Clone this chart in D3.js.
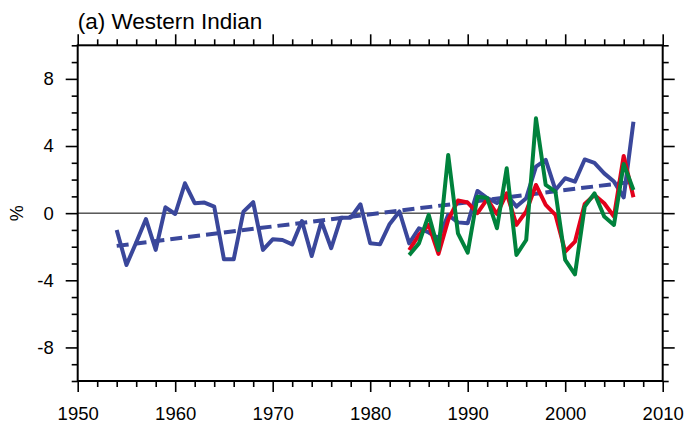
<!DOCTYPE html>
<html>
<head>
<meta charset="utf-8">
<script src="https://cdn.jsdelivr.net/npm/d3@7"></script>
<style>
  html, body { margin: 0; padding: 0; background: #fff; }
  svg { display: block; font-family: "Liberation Sans", Arial, Helvetica, sans-serif; }
</style>
</head>
<body>
<svg id="chart" width="687" height="423"></svg>
<script>
// ---- data ----
const blueYears = d3.range(1954, 2008);
const blueValues = [
  -1.0, -3.09, -1.75, -0.35, -2.19, 0.35, -0.05, 1.78, 0.59, 0.63,
  0.39, -2.75, -2.75, 0.09, 0.65, -2.19, -1.56, -1.6, -1.86, -0.47,
  -2.55, -0.5, -2.09, -0.27, -0.27, 0.53, -1.8, -1.86, -0.64, 0.1,
  -1.8, -0.9, -1.15, -1.5, -0.1, -0.55, -0.6, 1.32, 0.9, 0.6,
  1.1, 0.39, 0.89, 2.77, 3.17, 1.38, 2.08, 1.88, 3.2, 3.0,
  2.37, 1.88, 0.94, 5.45
];
const modelYears = d3.range(1984, 2008);
const redValues = [
  -2.2, -1.3, -0.7, -2.43, -0.4, 0.75, 0.63, 0.0, 0.83, -0.05,
  1.18, -0.7, 0.1, 1.68, 0.49, -0.1, -2.29, -1.7, 0.55, 1.08,
  0.59, -0.2, 3.41, 0.95
];
const greenValues = [
  -2.5, -1.8, -0.1, -2.2, 3.47, -1.2, -2.35, 0.98, 0.9, -0.9,
  2.67, -2.49, -1.6, 5.65, 1.68, 1.28, -2.79, -3.65, 0.39, 1.18,
  -0.2, -0.7, 2.93, 1.38
];
const trendYears = [1954, 2007];
const trendValues = [-1.95, 1.88];

const xTickValues = [1950, 1960, 1970, 1980, 1990, 2000, 2010];
const yTickValues = [-8, -4, 0, 4, 8];
const titleText = "(a) Western Indian";
const yLabelText = "%";

// ---- layout ----
const svg = d3.select("#chart");
const pL = 77.7, pR = 662.7, pT = 45.3, pB = 381;

const x = d3.scaleLinear().domain([1950, 2010]).range([pL, pR]);
const y = d3.scaleLinear().domain([-10, 10]).range([pB, pT]);

const xMinor = d3.range(1950, 2011, 2).filter(v => v % 10 !== 0);
const yMinor = d3.range(-10, 11, 1).filter(v => v % 4 !== 0);

// zero reference line
svg.append("line")
  .attr("x1", pL).attr("x2", pR)
  .attr("y1", y(0)).attr("y2", y(0))
  .attr("stroke", "#000").attr("stroke-width", 1);

// series
const line = d3.line().x(d => x(d[0])).y(d => y(d[1]));
function drawSeries(years, values, color, dash) {
  svg.append("path")
    .datum(years.map((yr, i) => [yr, values[i]]))
    .attr("d", line)
    .attr("fill", "none")
    .attr("stroke", color)
    .attr("stroke-width", 4)
    .attr("stroke-linejoin", "round")
    .attr("stroke-dasharray", dash || null);
}
drawSeries(blueYears, blueValues, "#3a479b");
drawSeries(trendYears, trendValues, "#3a479b", "12,6");
drawSeries(modelYears, redValues, "#e3001b");
drawSeries(modelYears, greenValues, "#00823c");

// axes
function styleAxis(g) {
  g.selectAll(".domain").remove();
  g.selectAll(".tick line").attr("stroke", "#000").attr("stroke-width", 1.6);
}
const fs = "18.5px";
const fmt = d => String(d);

svg.append("g").attr("transform", `translate(0,${pB})`)
  .call(d3.axisBottom(x).tickValues(xTickValues).tickFormat(fmt).tickSize(11).tickPadding(15))
  .call(styleAxis)
  .call(g => g.selectAll("text").attr("font-size", fs).attr("fill", "#000").attr("font-family", "Liberation Sans, Arial, sans-serif"));
svg.append("g").attr("transform", `translate(0,${pB})`)
  .call(d3.axisBottom(x).tickValues(xMinor).tickFormat("").tickSize(6))
  .call(styleAxis);
svg.append("g").attr("transform", `translate(0,${pT})`)
  .call(d3.axisTop(x).tickValues(xTickValues).tickFormat("").tickSize(11))
  .call(styleAxis);
svg.append("g").attr("transform", `translate(0,${pT})`)
  .call(d3.axisTop(x).tickValues(xMinor).tickFormat("").tickSize(6))
  .call(styleAxis);
svg.append("g").attr("transform", `translate(${pL},0)`)
  .call(d3.axisLeft(y).tickValues(yTickValues).tickFormat(fmt).tickSize(12).tickPadding(12))
  .call(styleAxis)
  .call(g => g.selectAll("text").attr("font-size", fs).attr("fill", "#000").attr("font-family", "Liberation Sans, Arial, sans-serif"));
svg.append("g").attr("transform", `translate(${pL},0)`)
  .call(d3.axisLeft(y).tickValues(yMinor).tickFormat("").tickSize(6))
  .call(styleAxis);
svg.append("g").attr("transform", `translate(${pR},0)`)
  .call(d3.axisRight(y).tickValues(yTickValues).tickFormat("").tickSize(12))
  .call(styleAxis);
svg.append("g").attr("transform", `translate(${pR},0)`)
  .call(d3.axisRight(y).tickValues(yMinor).tickFormat("").tickSize(6))
  .call(styleAxis);

// frame
svg.append("rect")
  .attr("x", pL).attr("y", pT)
  .attr("width", pR - pL).attr("height", pB - pT)
  .attr("fill", "none").attr("stroke", "#000").attr("stroke-width", 2);

// title
svg.append("text")
  .attr("x", pL).attr("y", 29)
  .attr("font-size", "22.5px")
  .attr("fill", "#000")
  .text(titleText);

// y label
svg.append("text")
  .attr("transform", `translate(23,${y(0)}) rotate(-90)`)
  .attr("text-anchor", "middle")
  .attr("font-size", "18px")
  .attr("fill", "#000")
  .text(yLabelText);
</script>
</body>
</html>
